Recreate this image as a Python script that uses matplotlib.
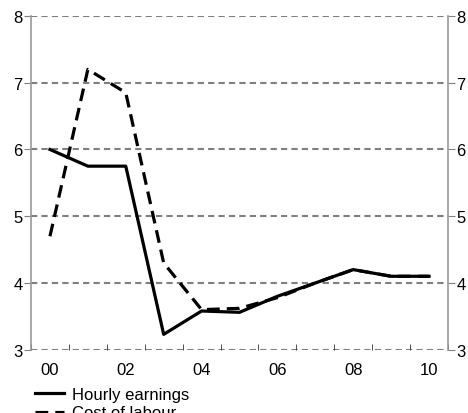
import matplotlib
matplotlib.use("Agg")
import matplotlib.pyplot as plt
import numpy as np

years = ["00", "01", "02", "03", "04", "05", "06", "07", "08", "09", "10"]
hourly_earnings = [6.0, 5.75, 5.75, 3.23, 3.58, 3.56, 3.8, 4.0, 4.2, 4.1, 4.1]
cost_of_labour = [4.7, 7.2, 6.85, 4.3, 3.6, 3.62, 3.78, 4.0, 4.2, 4.1, 4.1]
y_ticks = [3, 4, 5, 6, 7, 8]

plt.rcParams['font.family'] = ['Liberation Sans', 'DejaVu Sans']
fig = plt.figure(figsize=(4.68, 4.14), dpi=100)
ax = fig.add_axes([31/468, 63.3/414, 417/468, 333.7/414])

x = np.arange(len(years))
ax.plot(x, hourly_earnings, color='black', lw=2.3, label='Hourly earnings', zorder=4)
ax.plot(x, cost_of_labour, color='black', lw=2.3, dashes=(4, 2.2), label='Cost of labour', zorder=3)

ax.set_xlim(-0.5, len(years) - 0.5)
ax.set_ylim(3, 8)
for yv in y_ticks:
    ax.axhline(yv, color='#7f7f7f', lw=1.5, dashes=(3, 2), zorder=1)

ax.set_yticks(y_ticks)
ax.tick_params(axis='y', which='both', left=True, right=True, labelleft=True, labelright=True,
               direction='out', length=5, color='#808080', labelsize=12, pad=1)
ax.set_xticks(np.arange(-0.5, len(years), 1.0), minor=True)
ax.set_xticks(x[::2])
ax.set_xticklabels(years[::2])
ax.tick_params(axis='x', which='major', length=0, labelsize=12, pad=9)
ax.tick_params(axis='x', which='minor', length=4, direction='in', color='#333333')

for s in ['left', 'right']:
    ax.spines[s].set_color('#999999')
    ax.spines[s].set_linewidth(1.2)
ax.spines['top'].set_visible(False)
ax.spines['bottom'].set_visible(False)

leg = fig.legend(loc='upper left', bbox_to_anchor=(35/468, 1 - 388/414), frameon=False,
                 fontsize=12, handlelength=1.75, handletextpad=0.45, labelspacing=0.2,
                 borderaxespad=0, borderpad=0)

fig.savefig('out.png', dpi=100)
